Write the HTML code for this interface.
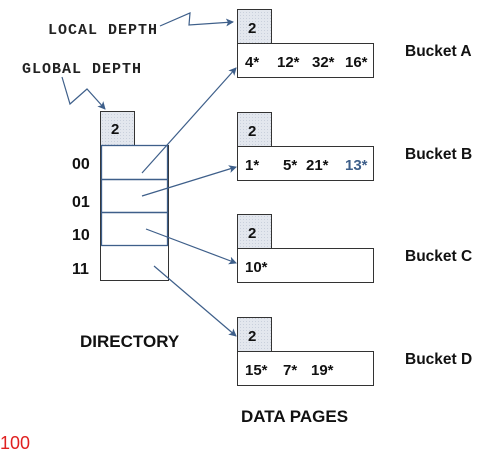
<!DOCTYPE html>
<html><head><meta charset="utf-8"><style>
html,body{margin:0;padding:0;background:#fff;width:504px;height:450px;overflow:hidden}
svg{display:block}
.b{font-family:"Liberation Sans",sans-serif;font-weight:bold;fill:#111}
.m{font-family:"Liberation Mono",monospace;font-weight:bold;fill:#222;font-size:15px;letter-spacing:1px}
</style></head><body>
<svg id="c" width="504" height="450" viewBox="0 0 504 450">
<defs>
<pattern id="dots" width="3" height="3" patternUnits="userSpaceOnUse"><rect width="3" height="3" fill="#e3e7ee"/><rect width="1" height="1" fill="#c9d0dc"/></pattern>
<marker id="ah" markerWidth="8" markerHeight="8" refX="7" refY="4" orient="auto" markerUnits="userSpaceOnUse"><path d="M0,0 L8,4 L0,8 L2,4 Z" fill="#3e5f8a"/></marker>
</defs>
<text class="m" x="48" y="34">LOCAL DEPTH</text>
<polyline points="160,26 190,13 189,25 233,22" fill="none" stroke="#3e5f8a" stroke-width="1.2" marker-end="url(#ah)"/>
<text class="m" x="22" y="73">GLOBAL DEPTH</text>
<polyline points="62,77 70,104 87,89 105,109" fill="none" stroke="#3e5f8a" stroke-width="1.2" marker-end="url(#ah)"/>
<rect x="100.5" y="111.5" width="34" height="34" fill="url(#dots)" stroke="#333"/>
<text class="b" x="111" y="134" font-size="15">2</text>
<g id="dir"></g>
<g id="bk"></g>
<text class="b" x="80" y="347" font-size="17">DIRECTORY</text>
<text class="b" x="241" y="422" font-size="17">DATA PAGES</text>
<text x="0" y="449" font-family="Liberation Sans,sans-serif" font-size="18" fill="#e02020">100</text>
</svg>
<script>
const dirLabels=["00","01","10","11"];
const dirTargets=[0,1,2,3];
const bucketNames=["Bucket A","Bucket B","Bucket C","Bucket D"];
const bucketDepths=[2,2,2,2];
const bucketEntries=[["4*","12*","32*","16*"],["1*","5*","21*","13*"],["10*"],["15*","7*","19*"]];
const NS="http://www.w3.org/2000/svg";
function mk(t,a,p){const e=document.createElementNS(NS,t);for(const k in a)e.setAttribute(k,a[k]);p.appendChild(e);return e;}
const dir=document.getElementById('dir'),bk=document.getElementById('bk');
const rowY=[145,179,212,245,281];
const bTop=i=>9+i*102.5;
const entryX=[[245,277,312,345],[245,283,306,345],[245],[245,283,311]];
bucketNames.forEach((n,i)=>{
 const y=Math.round(bTop(i));
 const g=mk('g',{},bk);
 
 
 const r=mk('rect',{x:237.5,y:y+0.5,width:34,height:34,fill:'url(#dots)',stroke:'#333'},g);
 
 
 const d=mk('text',{class:'b',x:248,y:y+24,'font-size':15},g);d.textContent=bucketDepths[i];
 
 
 const p=mk('rect',{x:237.5,y:y+34.5,width:136,height:34,fill:'#fff',stroke:'#333'},g);
 
 
 bucketEntries[i].forEach((v,j)=>{
  const t=mk('text',{class:'b',x:entryX[i][j]||245+j*30,y:y+58,'font-size':15},g);t.textContent=v;
  if(i===1&&j===3)t.style.fill='#3e5f8a';
  
  
 });
 const l=mk('text',{class:'b',x:405,y:y+47,'font-size':15.5},g);l.textContent=n;
 
 
});
mk('rect',{x:100.5,y:145.5,width:68,height:135,fill:'#fff',stroke:'#333'},dir);
const starts=[[142,173],[142,196],[146,229],[154,266]];
const labelY=[169,207,240,274];
dirLabels.forEach((s,i)=>{
 const y0=rowY[i],y1=rowY[i+1];
 const c=mk('rect',{x:101.5,y:y0+0.5,width:66,height:y1-y0,fill:'none',stroke:i<3?'#3e5f8a':'none','stroke-width':1.3},dir);
 
 
 const t=mk('text',{class:'b',x:72,y:labelY[i],'font-size':16},dir);t.textContent=s;
 
 
 const b=dirTargets[i];
 const ty=[68,167,263,336][b];
 const a=mk('line',{x1:starts[i][0],y1:starts[i][1],x2:236,y2:ty,stroke:'#3e5f8a','stroke-width':1.2,'marker-end':'url(#ah)'},dir);
 
 
});
</script>
</body></html>
